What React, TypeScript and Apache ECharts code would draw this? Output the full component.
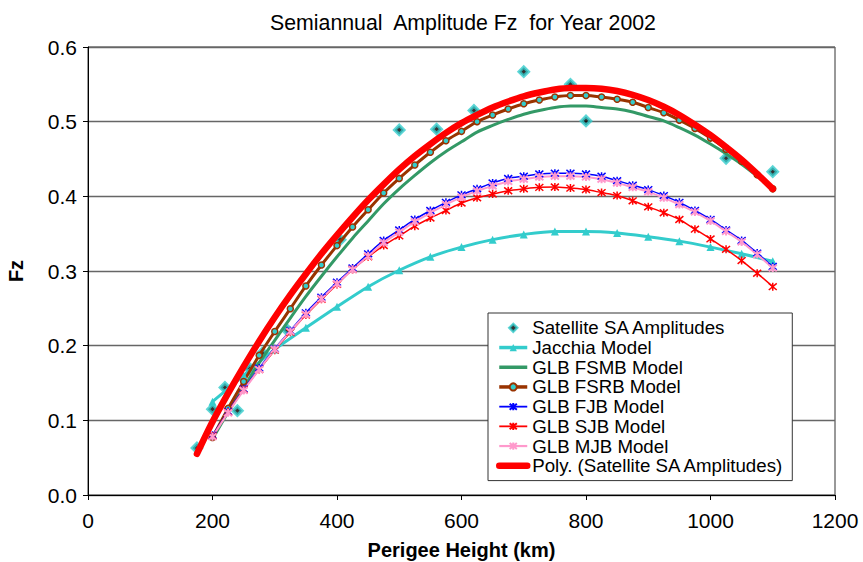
import React, { useEffect, useRef } from "react";
import * as echarts from "echarts";

const modelHeights = [200, 225, 250, 275, 300, 325, 350, 375, 400, 425, 450, 475, 500, 525, 550, 575, 600, 625, 650, 675, 700, 725, 750, 775, 800, 825, 850, 875, 900, 925, 950, 975, 1000, 1025, 1050, 1075, 1100];
const polyHeights = [175, 200, 225, 250, 275, 300, 325, 350, 375, 400, 425, 450, 475, 500, 525, 550, 575, 600, 625, 650, 675, 700, 725, 750, 775, 800, 825, 850, 875, 900, 925, 950, 975, 1000, 1025, 1050, 1075, 1100];
const jacchiaHeights = [200, 250, 300, 350, 400, 450, 500, 550, 600, 650, 700, 750, 800, 850, 900, 950, 1000, 1050, 1100];

const satHeights = [175, 200, 220, 240, 260, 280, 320, 405, 500, 560, 620, 700, 775, 800, 1025, 1100];
const satValues = [0.063, 0.115, 0.144, 0.113, 0.169, 0.19, 0.221, 0.342, 0.489, 0.49, 0.515, 0.567, 0.55, 0.501, 0.451, 0.433];

const jacchiaValues = [0.125, 0.16, 0.195, 0.224, 0.252, 0.279, 0.301, 0.319, 0.332, 0.342, 0.349, 0.353, 0.353, 0.351, 0.346, 0.34, 0.332, 0.323, 0.313];

const fsmbValues = [0.075, 0.111, 0.144, 0.177, 0.207, 0.237, 0.266, 0.293, 0.319, 0.344, 0.367, 0.39, 0.41, 0.428, 0.445, 0.46, 0.473, 0.486, 0.495, 0.503, 0.51, 0.515, 0.519, 0.521, 0.521, 0.519, 0.517, 0.513, 0.507, 0.501, 0.492, 0.482, 0.47, 0.457, 0.443, 0.427, 0.41];
const fsrbValues = [0.077, 0.116, 0.152, 0.187, 0.219, 0.2495, 0.28, 0.308, 0.334, 0.359, 0.382, 0.4045, 0.424, 0.442, 0.459, 0.4745, 0.487, 0.5, 0.509, 0.517, 0.524, 0.529, 0.533, 0.535, 0.535, 0.533, 0.53, 0.526, 0.519, 0.512, 0.502, 0.491, 0.478, 0.463, 0.447, 0.429, 0.41];
const fjbValues = [0.08, 0.112, 0.142, 0.17, 0.196, 0.22, 0.244, 0.265, 0.285, 0.304, 0.323, 0.341, 0.355, 0.369, 0.381, 0.392, 0.402, 0.41, 0.418, 0.424, 0.427, 0.43, 0.431, 0.431, 0.43, 0.427, 0.421, 0.415, 0.409, 0.401, 0.392, 0.381, 0.369, 0.355, 0.341, 0.324, 0.306];
const sjbValues = [0.079, 0.111, 0.141, 0.168, 0.194, 0.218, 0.241, 0.262, 0.282, 0.302, 0.319, 0.334, 0.347, 0.36, 0.371, 0.381, 0.391, 0.398, 0.403, 0.4075, 0.41, 0.412, 0.4125, 0.411, 0.409, 0.405, 0.401, 0.394, 0.386, 0.378, 0.369, 0.356, 0.343, 0.329, 0.314, 0.297, 0.279];
const mjbValues = [0.078, 0.11, 0.14, 0.168, 0.195, 0.219, 0.242, 0.263, 0.283, 0.302, 0.32, 0.338, 0.352, 0.366, 0.378, 0.389, 0.399, 0.407, 0.414, 0.42, 0.423, 0.426, 0.427, 0.427, 0.426, 0.423, 0.418, 0.412, 0.406, 0.398, 0.389, 0.379, 0.367, 0.353, 0.339, 0.322, 0.304];
const polyValues = [0.055, 0.098, 0.136, 0.172, 0.206, 0.238, 0.268, 0.296, 0.323, 0.348, 0.372, 0.395, 0.416, 0.436, 0.454, 0.47, 0.485, 0.498, 0.509, 0.519, 0.527, 0.534, 0.539, 0.543, 0.545, 0.545, 0.544, 0.541, 0.536, 0.529, 0.52, 0.509, 0.496, 0.482, 0.466, 0.449, 0.43, 0.41];

const xTicks = [0, 200, 400, 600, 800, 1000, 1200];
const yTicks = [0, 0.1, 0.2, 0.3, 0.4, 0.5, 0.6];

const seriesNames = [
  "Satellite SA Amplitudes",
  "Jacchia Model",
  "GLB FSMB Model",
  "GLB FSRB Model",
  "GLB FJB Model",
  "GLB SJB Model",
  "GLB MJB Model",
  "Poly. (Satellite SA Amplitudes)",
];

const pair = (xs: number[], ys: number[]) => xs.map((x, i) => [x, ys[i]]);

const ASTERISK = "path://M0,0L10,10M10,0L0,10M5,-1L5,11";
const LEGEND_DIAMOND = "path://M0,0M28,9M14,0.5L18,4.5L14,8.5L10,4.5Z";
const FONT = "'Liberation Sans', Arial, sans-serif";

export default function App() {
  const ref = useRef<HTMLDivElement>(null);
  useEffect(() => {
    if (!ref.current) return;
    const chart = echarts.init(ref.current, null, { renderer: "svg" });
    const lineBase = { type: "line", smooth: 0.3, z: 3 } as any;
    const legendData = seriesNames.map((n, i) => {
      if (i === 0)
        return {
          name: n,
          icon: LEGEND_DIAMOND,
          itemStyle: { color: "#000", borderColor: "#33CCCC", borderWidth: 2.4 },
        };
      if (i === 1) return { name: n, lineStyle: { color: "#33CCCC", width: 3.5 } };
      if (i === 2)
        return { name: n, itemStyle: { opacity: 0 }, lineStyle: { color: "#339966", width: 3.5, opacity: 1 } };
      if (i === 3) return { name: n, lineStyle: { color: "#993300", width: 3.5 } };
      if (i === 4) return { name: n, lineStyle: { color: "#0000FF", width: 1.8 } };
      if (i === 5) return { name: n, lineStyle: { color: "#FF0000", width: 1.8 } };
      if (i === 6) return { name: n, lineStyle: { color: "#FF99CC", width: 2.2 } };
      return { name: n, itemStyle: { opacity: 0 }, lineStyle: { color: "#FF0000", width: 6.5, cap: "round", opacity: 1 } };
    });
    chart.setOption({
      animation: false,
      backgroundColor: "#fff",
      textStyle: { fontFamily: FONT },
      title: {
        text: "Semiannual  Amplitude Fz  for Year 2002",
        left: 458,
        textAlign: "center",
        top: 7,
        textStyle: { fontFamily: FONT, fontSize: 21.3, fontWeight: "normal", color: "#000" },
      },
      grid: {
        left: 88,
        right: 28,
        top: 47,
        bottom: 67,
        outerBoundsMode: "none",
        containLabel: false,
        show: true,
        borderColor: "#333",
        borderWidth: 1,
        backgroundColor: "transparent",
      },
      legend: {
        orient: "vertical",
        left: 488,
        top: 313,
        data: legendData,
        itemWidth: 28,
        itemHeight: 9,
        itemGap: 0,
        padding: [5, 8, 5, 8],
        backgroundColor: "#fff",
        borderColor: "#333",
        borderWidth: 1,
        borderRadius: 0,
        textStyle: { fontFamily: FONT, fontSize: 18.7, color: "#000", lineHeight: 19.7 },
      },
      xAxis: {
        type: "value",
        min: 0,
        max: 1200,
        interval: 200,
        name: "Perigee Height (km)",
        nameLocation: "middle",
        nameGap: 45,
        nameTextStyle: { fontFamily: FONT, fontSize: 20, fontWeight: "bold", color: "#000" },
        axisLine: { show: true, onZero: false, lineStyle: { color: "#000", width: 1 } },
        axisTick: { show: true, inside: false, length: 5, lineStyle: { color: "#000" } },
        axisLabel: {
          fontFamily: FONT,
          fontSize: 21,
          color: "#000",
          margin: 15,
          formatter: (v: number) => (xTicks.includes(v) ? String(v) : ""),
        },
        splitLine: { show: false },
      },
      yAxis: {
        type: "value",
        min: 0,
        max: 0.6,
        interval: 0.1,
        name: "Fz",
        nameLocation: "middle",
        nameGap: 62,
        nameRotate: 90,
        nameTextStyle: { fontFamily: FONT, fontSize: 20, fontWeight: "bold", color: "#000" },
        axisLine: { show: true, onZero: false, lineStyle: { color: "#000", width: 1 } },
        axisTick: { show: true, inside: false, length: 5, lineStyle: { color: "#000" } },
        axisLabel: {
          fontFamily: FONT,
          fontSize: 21,
          color: "#000",
          margin: 11,
          formatter: (v: number) => {
            const t = yTicks.find((k) => Math.abs(k - v) < 1e-9);
            return t === undefined ? "" : t.toFixed(1);
          },
        },
        splitLine: { show: true, lineStyle: { color: "#666", width: 1.3 } },
      },
      series: [
        {
          name: seriesNames[0],
          type: "scatter",
          data: pair(satHeights, satValues),
          symbol: "diamond",
          symbolSize: 9,
          itemStyle: { color: "#000", borderColor: "#33CCCC", borderWidth: 3.4 },
          z: 2,
        },
        {
          ...lineBase,
          name: seriesNames[1],
          data: pair(jacchiaHeights, jacchiaValues),
          symbol: "triangle",
          symbolSize: 8,
          showSymbol: true,
          lineStyle: { color: "#33CCCC", width: 3 },
          itemStyle: { color: "#33CCCC" },
        },
        {
          ...lineBase,
          name: seriesNames[2],
          data: pair(modelHeights, fsmbValues),
          symbol: "none",
          lineStyle: { color: "#339966", width: 3 },
          itemStyle: { color: "#339966" },
        },
        {
          ...lineBase,
          name: seriesNames[3],
          data: pair(modelHeights, fsrbValues),
          symbol: "circle",
          symbolSize: 6,
          lineStyle: { color: "#993300", width: 3 },
          itemStyle: { color: "#33CCCC", borderColor: "#993300", borderWidth: 1.5 },
        },
        {
          ...lineBase,
          name: seriesNames[4],
          data: pair(modelHeights, fjbValues),
          symbol: ASTERISK,
          symbolSize: 8,
          lineStyle: { color: "#0000FF", width: 1.5 },
          itemStyle: { color: "#0000FF", borderColor: "#0000FF", borderWidth: 1.5 },
        },
        {
          ...lineBase,
          name: seriesNames[5],
          data: pair(modelHeights, sjbValues),
          symbol: ASTERISK,
          symbolSize: 8,
          lineStyle: { color: "#FF0000", width: 1.5 },
          itemStyle: { color: "#FF0000", borderColor: "#FF0000", borderWidth: 1.5 },
        },
        {
          ...lineBase,
          name: seriesNames[6],
          data: pair(modelHeights, mjbValues),
          symbol: ASTERISK,
          symbolSize: 8,
          lineStyle: { color: "#FF99CC", width: 2 },
          itemStyle: { color: "#FF99CC", borderColor: "#FF99CC", borderWidth: 2 },
        },
        {
          ...lineBase,
          name: seriesNames[7],
          data: pair(polyHeights, polyValues),
          symbol: "none",
          z: 4,
          lineStyle: { color: "#FF0000", width: 6.5, cap: "round", join: "round" },
          itemStyle: { color: "#FF0000" },
        },
      ],
    });
    return () => chart.dispose();
  }, []);
  return (
    <div
      ref={ref}
      style={{ position: "fixed", left: 0, top: 0, width: 863, height: 562, background: "#fff" }}
    />
  );
}
